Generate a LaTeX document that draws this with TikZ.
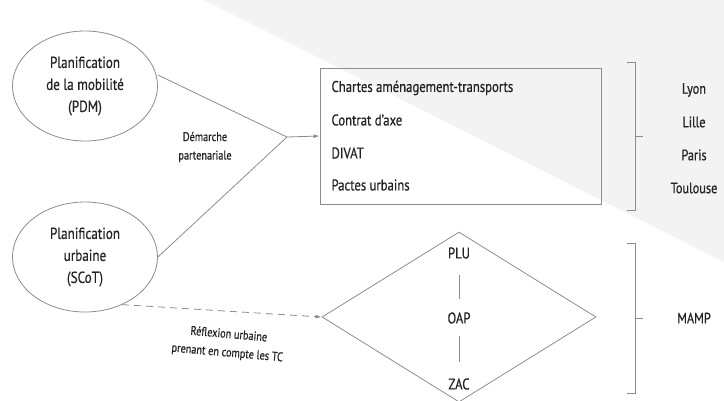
\documentclass[tikz,border=0pt]{standalone}
\usepackage{fontspec}
\setmainfont{PT Sans}[FakeStretch=0.82, FakeBold=0.6]
\usetikzlibrary{shapes.geometric,arrows.meta,positioning,calc}
\usepackage{xcolor}
\definecolor{linecolor}{RGB}{140,140,140}
\definecolor{textcolor}{RGB}{35,35,35}
\definecolor{bgcolor}{RGB}{243,243,243}

\begin{document}
\begin{tikzpicture}[x=1pt, y=-1pt,
    plan/.style={ellipse, draw=linecolor, line width=0.8pt, minimum width=145pt, minimum height=110pt, align=center, text=textcolor, font=\fontsize{16}{22}\selectfont},
    tool/.style={text=textcolor, font=\fontsize{15.5}{16}\selectfont},
    city/.style={text=textcolor, font=\fontsize{15}{16}\selectfont},
    note/.style={text=textcolor, align=center, font=\fontsize{12.5}{18.5}\selectfont},
    link/.style={draw=linecolor, line width=0.8pt},
    bracket/.style={draw=linecolor, line width=0.8pt},
]
    \useasboundingbox (0,0) rectangle (724,400);
    % Background
    \fill[bgcolor] (204,0) -- (724,0) -- (724,262) -- cycle;

    % Planifications
    \node[plan] (pdm) at (85,86) {Planification\\de la mobilité\\(PDM)};
    \node[plan] (scot) at (85,257) {Planification\\urbaine\\(SCoT)};

    % Box of tools
    \node[draw=linecolor, line width=0.8pt, minimum width=281pt, minimum height=136pt] (box) at (460.5,136) {};
    \node[tool, anchor=west] (t1) at (328,88) {Chartes aménagement-transports};
    \node[tool, anchor=west] (t2) at (328,120) {Contrat d’axe};
    \node[tool, anchor=west] (t3) at (328,153) {DIVAT};
    \node[tool, anchor=west] (t4) at (328,185) {Pactes urbains};

    % Diamond
    \node[diamond, draw=linecolor, line width=0.8pt, minimum width=274pt, minimum height=170pt] (dia) at (459,317) {};
    \node[tool] (plu) at (459,253) {PLU};
    \node[tool] (oap) at (459,318) {OAP};
    \node[tool] (zac) at (459,384) {ZAC};
    \draw[link, shorten <=13pt, shorten >=10pt] (plu) -- (oap);
    \draw[link, shorten <=9pt, shorten >=13pt] (oap) -- (zac);

    % Connectors
    \coordinate (join) at (287,137);
    \draw[link] (pdm.east) ++(0,-11) coordinate (pdmout) -- (join);
    \draw[link] (scot.east) -- (join);
    \draw[link, -{Latex[length=6pt, width=4pt]}] (join) -- (box.west);
    \node[note] (dem) at (205,147) {Démarche\\partenariale};
    \draw[link, dashed, dash pattern=on 7pt off 5pt, -{Latex[length=6pt, width=4pt]}] (scot.-52) -- (dia.west);
    \node[note, rotate=-5] (refl) at (228,344) {Réflexion urbaine\\prenant en compte les TC};

    % Brackets
    \draw[bracket] (627,62) -- (635,62) -- (635,210) -- (627,210);
    \draw[bracket] (635,136) -- (643,136);
    \draw[bracket] (627,243) -- (635,243) -- (635,393) -- (627,393);
    \draw[bracket] (635,318) -- (643,318);

    % Cities
    \node[city] (lyon) at (694,90) {Lyon};
    \node[city] (lille) at (694,122) {Lille};
    \node[city] (paris) at (694,155) {Paris};
    \node[city] (toulouse) at (694,188) {Toulouse};
    \node[city] (mamp) at (694,318) {MAMP};
\end{tikzpicture}
\end{document}
